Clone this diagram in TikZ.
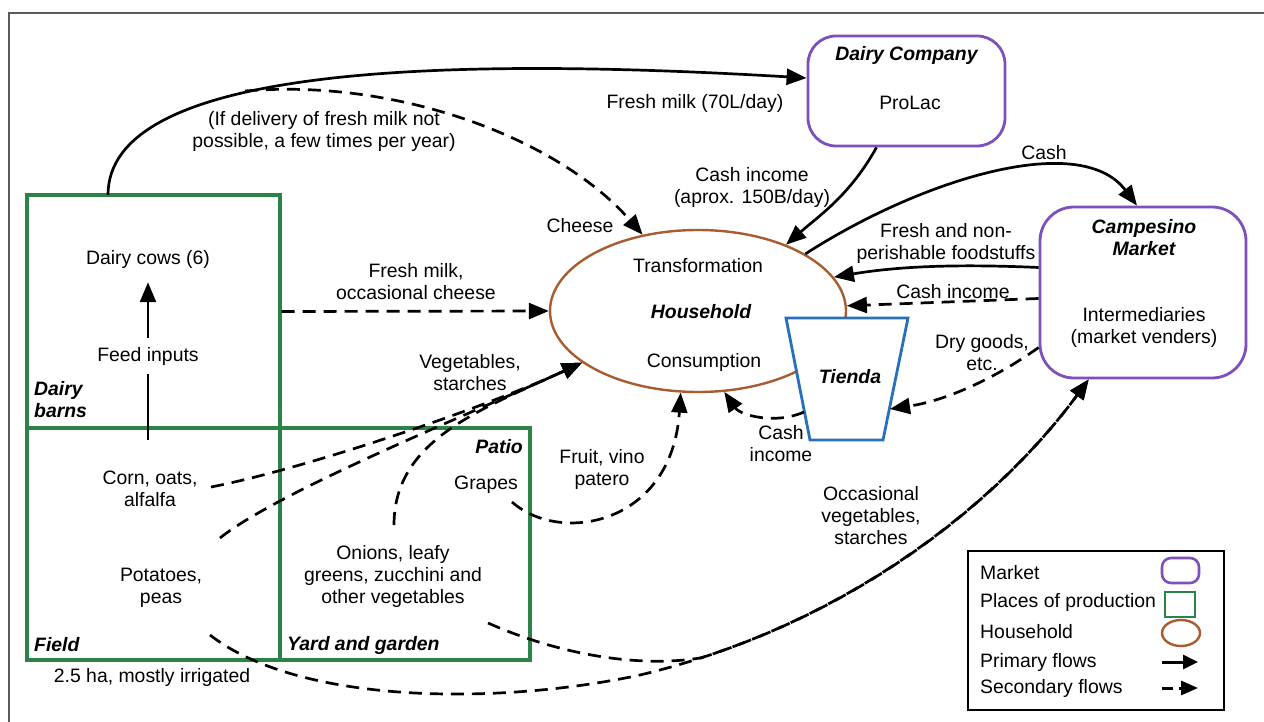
\documentclass[tikz,border=0pt]{standalone}
\usepackage{fontspec}
\setmainfont{Liberation Sans}
\usetikzlibrary{shapes.geometric,arrows.meta,calc}
\definecolor{prodgreen}{RGB}{42,132,72}
\definecolor{mktpurple}{RGB}{125,80,190}
\definecolor{hhbrown}{RGB}{168,92,48}
\definecolor{tdblue}{RGB}{40,112,190}
\definecolor{framegray}{RGB}{90,90,90}
\tikzset{
 lbl/.style={inner sep=1pt, align=center},
 bi/.style={lbl, font=\fontsize{19.4}{22}\selectfont\bfseries\itshape},
 primary/.style={line width=2.7pt, -{Triangle[length=20pt,width=16pt]}},
 secondary/.style={primary, dash pattern=on 13pt off 8pt},
 prodbox/.style={draw=prodgreen, line width=3.2pt, inner sep=0},
 mktbox/.style={draw=mktpurple, line width=2.8pt, inner sep=0},
 hhshape/.style={ellipse, draw=hhbrown, line width=2.4pt, inner sep=0},
}
\begin{document}
\begin{tikzpicture}[x=1pt,y=-1pt, font=\fontsize{19.4}{22}\selectfont]
\useasboundingbox (0,0) rectangle (1264,722);
\fill[white] (0,0) rectangle (1264,722);
\draw[framegray, line width=1.5pt] (9,13) rectangle (1300,760);

% places of production
\node[prodbox, minimum width=253pt, minimum height=233pt] (barns) at (153.5,311.5) {};
\node[prodbox, minimum width=253pt, minimum height=232pt] (field) at (153.5,544) {};
\node[prodbox, minimum width=250pt, minimum height=232pt] (yard) at (405,544) {};

% household
\node[hhshape, minimum width=296pt, minimum height=162pt] (hh) at (698,311) {};

% tienda
\draw[tdblue, line width=2.8pt, fill=white] (786,318) -- (908,318) -- (883,440) -- (810,440) -- cycle;
\coordinate (tL) at (804,412);
\coordinate (tR) at (890,409);

% markets
\node[mktbox, rounded corners=28pt, minimum width=197pt, minimum height=110pt] (dc) at (906.5,91) {};
\node[mktbox, rounded corners=34pt, minimum width=206pt, minimum height=171pt] (cm) at (1143,292.5) {};

% texts in places
\node[lbl] (cows) at (148,259) {Dairy cows (6)};
\node[bi, anchor=west, align=left] (barnsL) at (33,400) {Dairy\\barns};
\node[lbl] (corn) at (150,489) {Corn, oats,\\alfalfa};
\node[lbl] (pot) at (161,588) {Potatoes,\\peas};
\node[bi, anchor=west] (fieldL) at (33,645) {Field};
\node[lbl] (ha) at (152,677) {2.5 ha, mostly irrigated};
\node[bi, anchor=east] (patioL) at (524,447) {Patio};
\node[lbl] (grapes) at (486,485) {Grapes};
\node[lbl] (onions) at (393,576) {Onions, leafy\\greens, zucchini and\\other vegetables};
\node[bi, anchor=west] (yardL) at (286,645) {Yard and garden};

\node[lbl] (trans) at (698,266) {Transformation};
\node[bi] (hhL) at (701,312) {Household};
\node[lbl] (cons) at (704,362) {Consumption};
\node[bi] (tienda) at (850,377) {Tienda};
\node[bi] (dcL) at (906.5,55) {Dairy Company};
\node[lbl] (prolac) at (910,103) {ProLac};
\node[bi] (cmL) at (1144,238) {Campesino\\Market};
\node[lbl] (inter) at (1144,327) {Intermediaries\\(market venders)};

% flow labels
\node[lbl] (l1) at (695,103) {Fresh milk (70L/day)};
\node[lbl] (l2) at (324,131) {(If delivery of fresh milk not\\possible, a few times per year)};
\node[lbl] (l3) at (580,226) {Cheese};
\node[lbl] (l4) at (416,282) {Fresh milk,\\occasional cheese};
\node[lbl] (l5) at (752,187) {Cash income\\(aprox. 150B/day)};
\node[lbl] (l6) at (1044,153) {Cash};
\node[lbl] (l7) at (946,243) {Fresh and non-\\perishable foodstuffs};
\node[lbl] (l8) at (953,292) {Cash income};
\node[lbl] (l9) at (982,353) {Dry goods,\\etc.};
\node[lbl] (l10) at (781,444) {Cash\\income};
\node[lbl] (l11) at (470,373) {Vegetables,\\starches};
\node[lbl] (l12) at (602,469) {Fruit, vino\\patero};
\node[lbl] (l13) at (871,516) {Occasional\\vegetables,\\starches};

% connector end points near texts
\coordinate (barnsTop) at (108,195);
\coordinate (branch) at (245,91);
\coordinate (feedStart) at (148,440);
\coordinate (cornOut) at (211,487);
\coordinate (potOut) at (220,538);
\coordinate (potLow) at (210,635);
\coordinate (onTop) at (394,525);
\coordinate (onLow) at (488,623);
\coordinate (grOut) at (512,502);

% primary flows
\draw[primary] (barnsTop) .. controls (108,70) and (420,55) .. ([yshift=13pt]dc.west);
\draw[primary] (feedStart) -- node[lbl, pos=0.53, fill=white, inner ysep=9pt] (feed) {Feed inputs} ([yshift=-13pt]cows.south);
\draw[primary] (dc.242) .. controls (850,195) and (820,215) .. (hh.37);
\draw[primary] (hh.28) .. controls (920,180) and (1080,130) .. ([xshift=-6pt]cm.north);
\draw[primary] ([yshift=25pt]cm.west) .. controls (960,264) and (900,266) .. (hh.14);

% secondary flows
\draw[secondary] (branch) .. controls (400,78) and (560,140) .. (hh.126);
\draw[secondary] (barns.east) -- (hh.west);
\draw[secondary] ([yshift=-6pt]cm.west) -- (hh.2);
\draw[secondary] ([yshift=-55pt]cm.west) .. controls (1000,375) and (950,400) .. (tR);
\draw[secondary] (tL) .. controls (775,425) and (740,415) .. (hh.288);
\draw[secondary] (grOut) .. controls (560,545) and (672,525) .. (hh.258);
\draw[secondary] (cornOut) .. controls (300,470) and (480,410) .. (hh.204);
\draw[secondary] (potOut) .. controls (280,490) and (480,410) .. (hh.204);
\draw[secondary] (onTop) .. controls (394,440) and (480,410) .. (hh.204);
\draw[secondary] (potLow) .. controls (300,705) and (500,705) .. (640,675)
  .. controls (850,625) and (1000,500) .. (cm.238);
\draw[secondary] (onLow) .. controls (560,655) and (640,668) .. (701.2,657.8)
  .. controls (879.4,600.05) and (1008.8,488) .. (cm.238);

% legend
\node[draw, line width=1.3pt, minimum width=256pt, minimum height=159pt, inner sep=0] (legend) at (1096,630.5) {};
\node[mktbox, line width=2.6pt, rounded corners=9pt, minimum width=37pt, minimum height=25pt] (lgM) at (1180.5,570.5) {};
\node[prodbox, line width=2.8pt, minimum width=30pt, minimum height=25pt] (lgP) at (1180,604.5) {};
\node[hhshape, minimum width=38pt, minimum height=26pt] (lgH) at (1181,633) {};
\coordinate (lgA1) at (1162,662); \coordinate (lgA2) at (1198,662);
\draw[primary, line width=3pt, -{Triangle[length=15pt,width=14pt]}] (lgA1) -- (lgA2);
\coordinate (lgB1) at (1162,688); \coordinate (lgB2) at (1198,688);
\draw[secondary, line width=3pt, dash pattern=on 11pt off 6pt, -{Triangle[length=17pt,width=14pt]}] (lgB1) -- (lgB2);
\node[lbl, anchor=west] (lgt1) at (979,573) {Market};
\node[lbl, anchor=west] (lgt2) at (979,602) {Places of production};
\node[lbl, anchor=west] (lgt3) at (979,632) {Household};
\node[lbl, anchor=west] (lgt4) at (979,662) {Primary flows};
\node[lbl, anchor=west] (lgt5) at (979,688) {Secondary flows};
\end{tikzpicture}
\end{document}
